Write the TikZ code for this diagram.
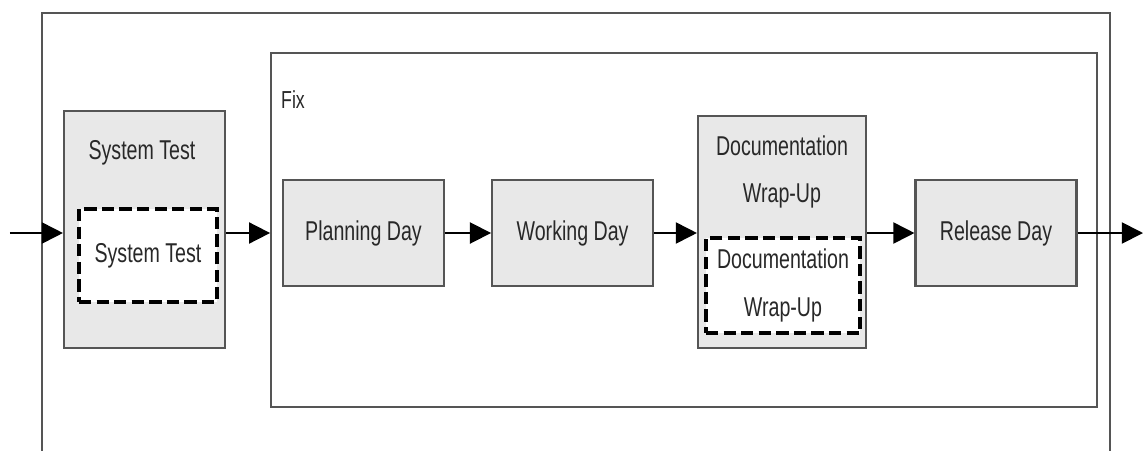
\documentclass[tikz,border=0pt]{standalone}
\usepackage{fontspec}
\setmainfont{Liberation Sans}[FakeStretch=0.72]
\usepackage{tikz}
\usetikzlibrary{positioning, calc, arrows.meta}
\definecolor{phGray}{RGB}{232,232,232}
\definecolor{phLine}{RGB}{85,85,85}
\definecolor{phText}{RGB}{40,40,40}

\begin{document}
\begin{tikzpicture}[node distance=0.92cm,
    phase/.style={draw=phLine, line width=1.2pt, fill=phGray, text=phText, inner sep=0pt, font=\fontsize{15.5}{27}\selectfont, align=center},
    sub/.style={draw=black, line width=1.9pt, dash pattern=on 7pt off 3pt, fill=white, text=phText, inner sep=0pt, font=\fontsize{15.5}{27}\selectfont, align=center},
    flow/.style={-{Triangle[length=12pt,width=12pt]}, line width=1pt, black}]
      \useasboundingbox (0,0) rectangle (22.86,-9);
      % outer frame, open at the bottom
      \draw[phLine, line width=1pt] (0.84,-9.2) -- (0.84,-0.26) -- (22.2,-0.26) -- (22.2,-9.2);
      \node[draw=phLine, line width=1pt, minimum width=16.52cm, minimum height=7.08cm] (fix) at (13.68,-4.6) {};
      \node[anchor=west, text=phText, font=\fontsize{14}{16}\selectfont] (fixlbl) at (5.5,-2.0) {Fix};

      \node[phase, minimum width=3.22cm, minimum height=4.74cm] (st) at (2.89,-4.59) {};
      \node[text=phText, font=\fontsize{15.5}{27}\selectfont] (sttitle) at (2.84,-3.06) {System Test};
      \node[sub, minimum width=2.76cm, minimum height=1.86cm] (stin) at (2.96,-5.11) {System Test};

      \node[phase, minimum width=3.22cm, minimum height=2.12cm] (plan) at (7.27,-4.66) {Planning Day};
      \node[phase, minimum width=3.22cm, minimum height=2.12cm, right=of plan] (work) {Working Day};
      \node[phase, minimum width=3.36cm, minimum height=4.64cm] (doc) at (15.64,-4.64) {};
      \node[text=phText, font=\fontsize{15.5}{27}\selectfont, align=center] (doctitle) at (15.64,-3.44) {Documentation\\Wrap-Up};
      \node[sub, minimum width=3.08cm, minimum height=1.9cm] (docin) at (15.66,-5.71) {Documentation\\Wrap-Up};
      \node[phase, minimum width=3.22cm, minimum height=2.12cm] (rel) at (19.92,-4.66) {Release Day};

      \coordinate (in) at (0.2,-4.66);
      \coordinate (out) at (22.86,-4.66);

      \draw[flow] (in) -- (in -| st.west);
      \draw[flow] (st.east |- in) -- (in -| fix.west);
      \draw[flow] (plan) -- (work);
      \draw[flow] (work) -- (work -| doc.west);
      \draw[flow] (doc.east |- rel) -- (rel);
      \draw[flow] (rel) -- (out);
    \end{tikzpicture}
\end{document}
